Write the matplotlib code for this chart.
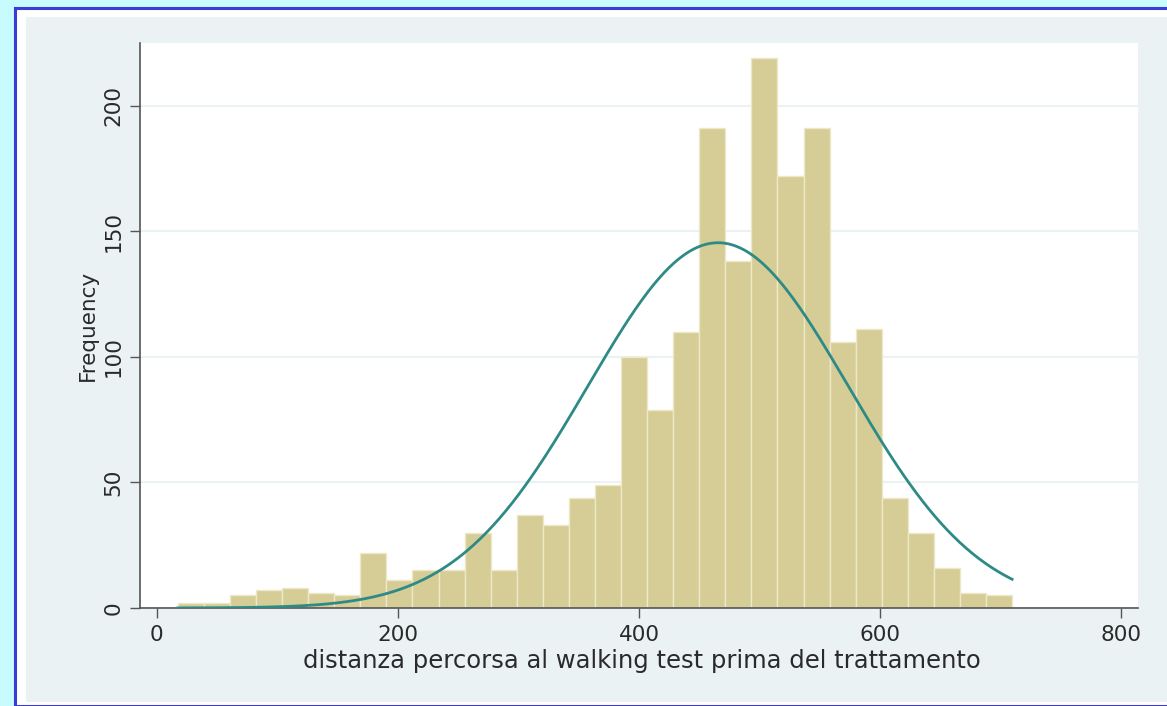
import numpy as np
import matplotlib.pyplot as plt
import matplotlib.patches as patches

# bin layout (Stata histogram, 32 bins)
bin_start = 17.4
bin_width = 21.63
counts = [2, 2, 5, 7, 8, 6, 5, 22, 11, 15, 15, 30, 15, 37, 33, 44,
          49, 100, 79, 110, 191, 138, 219, 172, 191, 106, 111, 44, 30, 16, 6, 5]

# normal overlay parameters
mu = 465.6
sd = 108.2

x_ticks = [0, 200, 400, 600, 800]
y_ticks = [0, 50, 100, 150, 200]
x_label = "distanza percorsa al walking test prima del trattamento"
y_label = "Frequency"

W, H = 1167, 706
fig = plt.figure(figsize=(W / 100, H / 100), dpi=100)
fig.patch.set_facecolor("#c8fbfd")

# outer blue frame, white margin, grey-blue panel
fig.patches.append(patches.Rectangle((15 / W, 0), 1.0, 1 - 8 / H, transform=fig.transFigure,
                                     facecolor="white", edgecolor="#3b3bd6", linewidth=2.2, zorder=-10))
fig.patches.append(patches.Rectangle((26 / W, 4 / H), 1.0, 1 - 21 / H, transform=fig.transFigure,
                                     facecolor="#eaf2f3", edgecolor="none", zorder=-9))

ax = fig.add_axes([140 / W, (H - 608) / H, (1138 - 140) / W, (608 - 43) / H])
ax.set_facecolor("white")

edges = bin_start + bin_width * np.arange(len(counts) + 1)
ax.bar(edges[:-1], counts, width=bin_width, align="edge", color="#d5cd95",
       edgecolor="#ece8c8", linewidth=1.0, zorder=2)

xs = np.linspace(edges[0], edges[-1], 400)
n = sum(counts)
ys = n * bin_width / (sd * np.sqrt(2 * np.pi)) * np.exp(-0.5 * ((xs - mu) / sd) ** 2)
ax.plot(xs, ys, color="#2e8a86", linewidth=2.0, zorder=3)

ax.set_xlim(-14, 814)
ax.set_ylim(0, 225)
ax.set_xticks(x_ticks)
ax.set_yticks(y_ticks)
ax.yaxis.grid(True, color="#eaf2f3", linewidth=1.5, zorder=0)
ax.set_axisbelow(True)

for s in ["top", "right"]:
    ax.spines[s].set_visible(False)
for s in ["left", "bottom"]:
    ax.spines[s].set_color("#555555")
    ax.spines[s].set_linewidth(1.2)

fnt = dict(family="DejaVu Sans", size=15.5, color="#2a2a2a")
ax.tick_params(direction="out", length=7, width=1.0, color="#555555", pad=5)
ax.set_xticklabels([str(t) for t in x_ticks], **fnt)
ax.set_yticklabels([str(t) for t in y_ticks], rotation=90, va="center", **fnt)
ax.set_ylabel(y_label, labelpad=4, **fnt)
# x title sits just under the tick labels, as in the Stata export
fig.text((290 + 993) / 2 / W, 1 - 661 / H, x_label, ha="center", va="center",
         family="DejaVu Sans", size=17.5, color="#2a2a2a")

fig.savefig("out.png", dpi=100, facecolor=fig.get_facecolor())
